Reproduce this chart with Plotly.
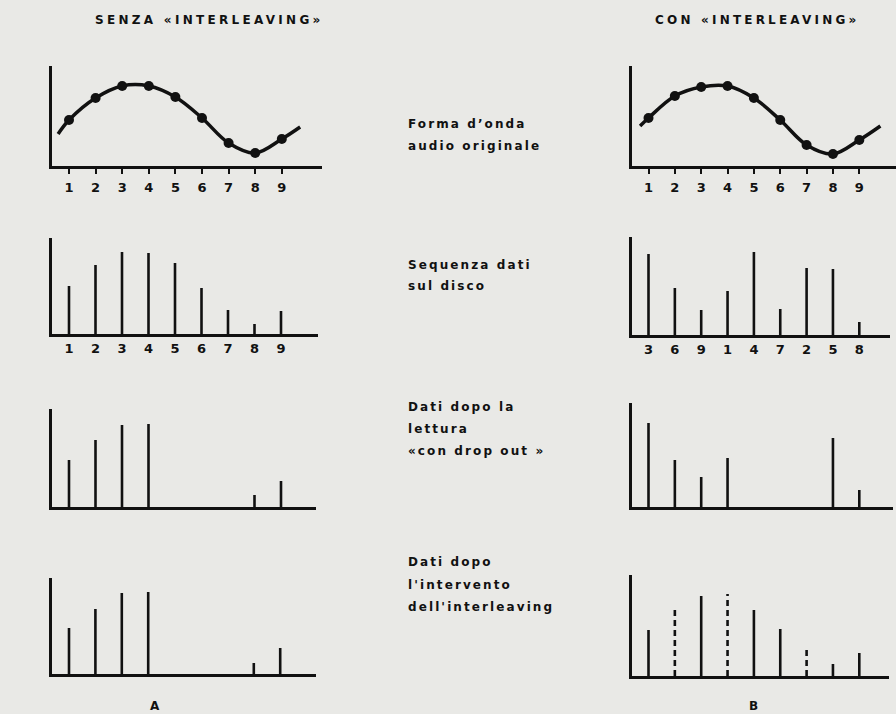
import plotly.graph_objects as go

W, H = 896, 714

# ---------------- data ----------------
positions = [1, 2, 3, 4, 5, 6, 7, 8, 9]
tick_labels = ["1", "2", "3", "4", "5", "6", "7", "8", "9"]
disk_order_labels = ["3", "6", "9", "1", "4", "7", "2", "5", "8"]

wave_left = [46, 68, 80, 80, 69, 48, 23, 13, 27]
wave_left_ends_x = [0.59, 9.69]
wave_left_ends_y = [32, 39]
wave_right = [48, 70, 79, 80, 68, 46, 21, 12, 26]
wave_right_ends_x = [0.68, 9.80]
wave_right_ends_y = [40, 40]

disk_left = [48, 69, 82, 81, 71, 46, 24, 10, 23]
disk_right = [81, 47, 25, 44, 83, 26, 67, 66, 13]
dropout_left = [47, 67, 82, 83, None, None, None, 12, 26]
dropout_right = [84, 47, 30, 49, None, None, None, 69, 17]
restored_left = [46, 65, 81, 82, None, None, None, 11, 26]
restored_right = [46, 67, 80, 82, 66, 47, 26, 12, 23]
restored_right_interpolated = [False, True, False, True, False, False, True, False, False]

title_left = "SENZA «INTERLEAVING»"
title_right = "CON «INTERLEAVING»"
row_labels = [
    ["Forma d’onda", "audio originale"],
    ["Sequenza dati", "sul disco"],
    ["Dati dopo la", "lettura", "«con drop out »"],
    ["Dati dopo", "l'intervento", "dell'interleaving"],
]
panel_letters = ["A", "B"]

# ---------------- layout geometry (pixels) ----------------
INK = "#111111"
BG = "#e9e9e6"
FONT = "DejaVu Sans"

# (axis left px, axis right px, top px, baseline px, x=1 px, spacing px)
panels = {
    "w_l": (52, 322, 66, 166, 69, 26.6),
    "w_r": (632, 896, 66, 166, 648.5, 26.35),
    "d_l": (52, 318, 238, 334, 69, 26.5),
    "d_r": (632, 890, 237, 335, 648.5, 26.35),
    "o_l": (52, 316, 409, 507, 69, 26.5),
    "o_r": (632, 893, 403, 507, 648.5, 26.35),
    "r_l": (52, 316, 578, 674, 69, 26.4),
    "r_r": (632, 889, 575, 676, 648.5, 26.35),
}
order = ["w_l", "w_r", "d_l", "d_r", "o_l", "o_r", "r_l", "r_r"]

fig = go.Figure()


def axname(i):
    return ("x" if i == 0 else f"x{i+1}"), ("y" if i == 0 else f"y{i+1}")


def segs(xs, ys):
    sx, sy = [], []
    for x, y in zip(xs, ys):
        if y is None:
            continue
        sx += [x, x, None]
        sy += [0, y, None]
    return sx, sy


layout_axes = {}
for i, key in enumerate(order):
    left, right, top, base, x1, s = panels[key]
    xr = [1 - (x1 - left) / s, 1 + (right - x1) / s]
    xa, ya = axname(i)
    xkey = "xaxis" if i == 0 else f"xaxis{i+1}"
    ykey = "yaxis" if i == 0 else f"yaxis{i+1}"
    show_ticks = key in ("w_l", "w_r", "d_l", "d_r")
    ttext = disk_order_labels if key == "d_r" else tick_labels
    wave = key in ("w_l", "w_r")
    layout_axes[xkey] = dict(
        domain=[left / W, right / W], range=xr, anchor=ya,
        showline=True, linecolor=INK, linewidth=2.5,
        showgrid=False, zeroline=False, fixedrange=True,
        tickmode="array", tickvals=positions if show_ticks else [],
        ticktext=ttext if show_ticks else [],
        ticks="outside" if wave else "",
        ticklen=5, tickwidth=2, tickcolor=INK,
        tickfont=dict(family=FONT, size=13, color=INK, weight="bold"),
        ticklabelstandoff=3 if wave else 1,
    )
    layout_axes[ykey] = dict(
        domain=[1 - base / H, 1 - top / H], range=[0, base - top], anchor=xa,
        showline=True, linecolor=INK, linewidth=2.5,
        showgrid=False, zeroline=False, showticklabels=False, ticks="",
        fixedrange=True,
    )

# waveforms
for i, (vals, ex, ey) in enumerate([(wave_left, wave_left_ends_x, wave_left_ends_y),
                                     (wave_right, wave_right_ends_x, wave_right_ends_y)]):
    xa, ya = axname(i)
    fig.add_trace(go.Scatter(
        x=[ex[0]] + positions + [ex[1]], y=[ey[0]] + vals + [ey[1]],
        mode="lines", line=dict(color=INK, width=3.5, shape="spline", smoothing=1.0),
        xaxis=xa, yaxis=ya, hoverinfo="skip", showlegend=False))
    fig.add_trace(go.Scatter(
        x=positions, y=vals, mode="markers",
        marker=dict(color=INK, size=10), xaxis=xa, yaxis=ya,
        hoverinfo="skip", showlegend=False))

# solid bar rows
bar_sets = [(2, disk_left), (3, disk_right), (4, dropout_left), (5, dropout_right), (6, restored_left)]
for i, vals in bar_sets:
    xa, ya = axname(i)
    sx, sy = segs(positions, vals)
    fig.add_trace(go.Scatter(x=sx, y=sy, mode="lines", line=dict(color=INK, width=2.6),
                             xaxis=xa, yaxis=ya, hoverinfo="skip", showlegend=False))

# restored (with interleaving): solid real samples, dashed interpolated
xa, ya = axname(7)
real = [v if not f else None for v, f in zip(restored_right, restored_right_interpolated)]
interp = [v if f else None for v, f in zip(restored_right, restored_right_interpolated)]
sx, sy = segs(positions, real)
fig.add_trace(go.Scatter(x=sx, y=sy, mode="lines", line=dict(color=INK, width=2.6),
                         xaxis=xa, yaxis=ya, hoverinfo="skip", showlegend=False))
sx, sy = segs(positions, interp)
fig.add_trace(go.Scatter(x=sx, y=sy, mode="lines", line=dict(color=INK, width=2.6, dash="6px,4px"),
                         xaxis=xa, yaxis=ya, hoverinfo="skip", showlegend=False))

# ---------------- text ----------------
ann = []


def add_text(txt, xpx, ypx, size=12, anchor="left", spacing=1.5):
    ann.append(dict(
        text=f'<span style="letter-spacing:{spacing}px">{txt}</span>',
        x=xpx / W, y=1 - ypx / H, xref="paper", yref="paper",
        xanchor=anchor, yanchor="middle", showarrow=False,
        font=dict(family=FONT, size=size, color=INK, weight="bold")))


add_text(title_left, 209, 20, size=12, anchor="center", spacing=3.3)
add_text(title_right, 757, 20, size=12, anchor="center", spacing=3.2)

label_y = [[124, 146], [265, 286], [407, 429, 451], [562, 585, 607]]
for lines, ys in zip(row_labels, label_y):
    for t, y in zip(lines, ys):
        add_text(t, 406, y, size=12, anchor="left", spacing=2.1)

add_text(panel_letters[0], 155, 706, size=12, anchor="center", spacing=0)
add_text(panel_letters[1], 753, 706, size=12, anchor="center", spacing=0)

fig.update_layout(
    width=W, height=H, autosize=False,
    margin=dict(l=0, r=0, t=0, b=0, pad=0),
    paper_bgcolor=BG, plot_bgcolor="rgba(0,0,0,0)",
    showlegend=False, annotations=ann, **layout_axes)

fig.write_html(
    "out.html", config={"displayModeBar": False},
    post_script=("document.body.style.margin='0';document.body.style.padding='0';"
                 "document.body.style.background='" + BG + "';"
                 "document.body.style.overflow='hidden';"))
